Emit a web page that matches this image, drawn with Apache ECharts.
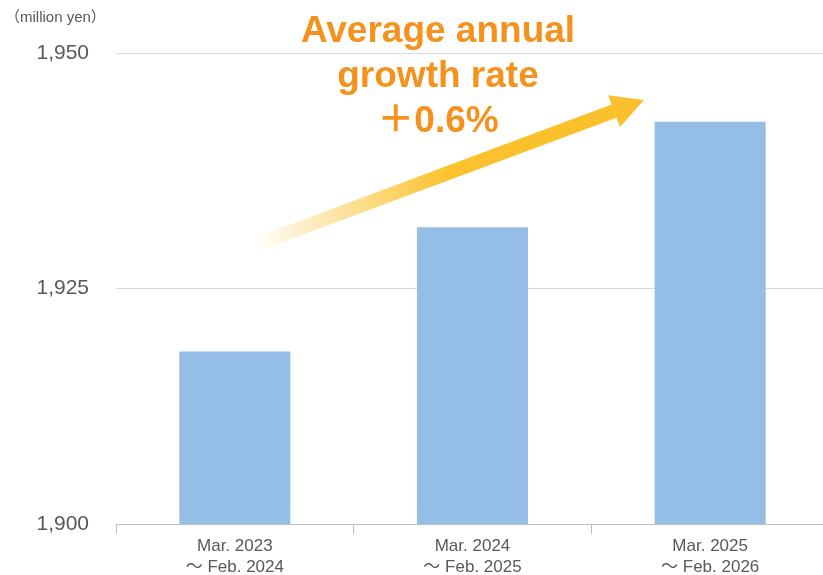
<!DOCTYPE html>
<html>
<head>
<meta charset="utf-8">
<script src="https://cdn.jsdelivr.net/npm/echarts@6/dist/echarts.min.js"></script>
<style>
  html, body { margin: 0; padding: 0; background: #fff; overflow: hidden; }
  #chart { width: 823px; height: 575px; }
</style>
</head>
<body>
<div id="chart"></div>
<script>
// data
const periods = ['Mar. 2023\n～ Feb. 2024', 'Mar. 2024\n～ Feb. 2025', 'Mar. 2025\n～ Feb. 2026']
const sales = [1918.3, 1931.5, 1942.7]
const yTicks = { min: 1900, max: 1950, step: 25 }
const unitLabel = '（million yen）'
const growthText = ['Average annual', 'growth rate', '＋0.6%']

const FONT = '"Liberation Sans", Arial, "Noto Sans CJK JP", sans-serif'
const GREY = '#595959'
const ORANGE = '#F5921E'

const chart = echarts.init(document.getElementById('chart'))

/* arrow polygon (decoration) */
const tail = [255, 245], tip = [644, 100]
const dx = tip[0] - tail[0], dy = tip[1] - tail[1]
const len = Math.hypot(dx, dy)
const u = [dx / len, dy / len], n = [-u[1], u[0]]
const headLen = 32, shaftHalf = 7, headHalf = 17
const base = [tip[0] - headLen * u[0], tip[1] - headLen * u[1]]
const pt = (p, k) => [p[0] + k * n[0], p[1] + k * n[1]]
const arrowPts = [
  pt(tail, -shaftHalf), pt(base, -shaftHalf), pt(base, -headHalf), tip,
  pt(base, headHalf), pt(base, shaftHalf), pt(tail, shaftHalf)
]

chart.setOption({
  animation: false,
  textStyle: { fontFamily: FONT },
  grid: { left: 116, width: 713, top: 53, height: 471, outerBoundsMode: 'none', containLabel: false },
  xAxis: {
    type: 'category',
    data: periods,
    axisLine: { lineStyle: { color: '#BFBFBF', width: 1 } },
    axisTick: { show: true, length: 10, lineStyle: { color: '#BFBFBF' } },
    axisLabel: { color: GREY, fontSize: 17, lineHeight: 21, margin: 12, fontFamily: FONT }
  },
  yAxis: {
    type: 'value',
    min: yTicks.min,
    max: yTicks.max,
    interval: yTicks.step,
    axisLine: { show: false },
    axisTick: { show: false },
    splitLine: { lineStyle: { color: '#D9D9D9', width: 1 } },
    axisLabel: {
      color: GREY, fontSize: 21, margin: 27, fontFamily: FONT,
      formatter: v => v.toLocaleString('en-US')
    }
  },
  series: [{
    type: 'bar',
    data: sales,
    barWidth: 111,
    itemStyle: { color: '#94BEE6' }
  }],
  graphic: [
    {
      type: 'polygon',
      shape: { points: arrowPts },
      style: {
        fill: new echarts.graphic.LinearGradient(0, 0, 1, 0, [
          { offset: 0, color: 'rgba(251,194,45,0)' },
          { offset: 0.5, color: 'rgba(251,194,45,1)' },
          { offset: 1, color: 'rgba(251,192,45,1)' }
        ])
      },
      z: 10
    },
    {
      type: 'text', left: 5, top: 10,
      style: { text: unitLabel, fill: GREY, font: '15px ' + FONT }
    },
    ...growthText.map((t, i) => ({
      type: 'text',
      x: 438, y: 32 + i * 45,
      style: {
        text: t, fill: ORANGE, font: 'bold 37px ' + FONT,
        textAlign: 'center', textVerticalAlign: 'middle'
      },
      z: 11
    }))
  ]
})
</script>
</body>
</html>
